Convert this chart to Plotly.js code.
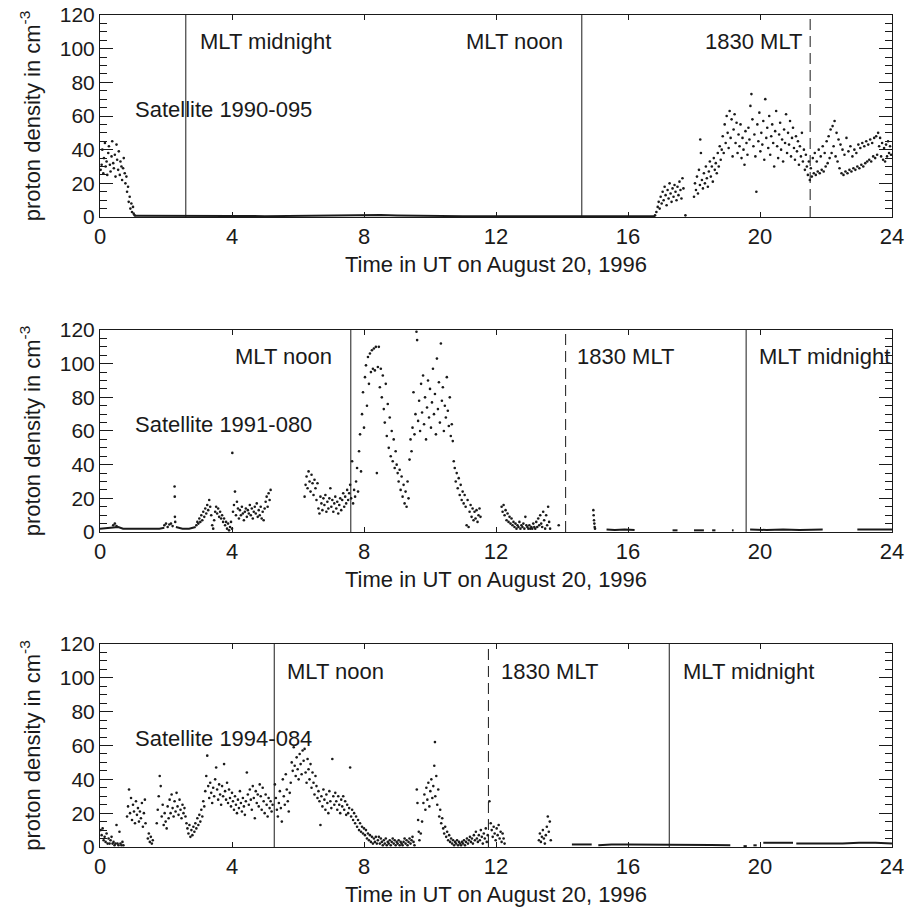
<!DOCTYPE html>
<html><head><meta charset="utf-8">
<script src="https://cdn.plot.ly/plotly-3.0.1.min.js"></script>
<style>html,body{margin:0;padding:0;background:#fff}#chart{width:908px;height:909px}</style>
</head><body><div id="chart"></div>
<script>
// ---------- tick labels ----------
var xTickVals = [0, 4, 8, 12, 16, 20, 24];
var xTickText = ["0", "4", "8", "12", "16", "20", "24"];
var yTickVals = [0, 20, 40, 60, 80, 100, 120];
var yTickText = ["0", "20", "40", "60", "80", "100", "120"];
var xTitle = "Time in UT on August 20, 1996";
var yTitle = "proton density in cm<sup>-3</sup>";

// ---------- Satellite 1990-095 ----------
var sat1Name = "Satellite 1990-095";
var sat1Time = [0.02,0.05,0.07,0.10,0.12,0.15,0.17,0.20,0.22,0.25,0.27,0.30,0.32,0.35,0.37,0.40,0.42,0.45,0.47,0.50,0.52,0.55,0.57,0.60,0.62,0.65,0.67,0.70,0.72,0.75,0.77,0.80,0.82,0.85,0.87,0.90,0.92,0.95,0.97,1.00,1.02,1.05,
16.82,16.86,16.90,16.93,16.96,16.99,17.02,17.05,17.08,17.11,17.14,17.17,17.20,17.23,17.26,17.29,17.32,17.35,17.38,17.41,17.44,17.47,17.50,17.53,17.56,17.59,17.62,17.65,17.68,17.74,
18.00,18.03,18.06,18.09,18.12,18.15,18.18,18.19,18.21,18.24,18.27,18.30,18.33,18.36,18.39,18.42,18.45,18.48,18.51,18.54,18.57,18.60,18.63,18.66,18.69,18.72,18.75,18.78,18.81,18.84,
18.87,18.90,18.93,18.96,18.99,19.02,19.05,19.08,19.11,19.14,19.17,19.20,19.23,19.26,19.29,
19.32,19.35,19.38,19.41,19.44,19.47,19.50,19.53,19.56,19.59,19.62,19.65,19.68,19.71,19.74,19.77,19.80,19.83,19.86,19.89,19.92,19.95,19.98,20.01,20.04,20.07,20.10,20.13,20.16,20.19,20.22,20.25,20.28,20.31,20.34,20.37,20.40,20.43,20.46,20.49,20.52,20.55,20.58,20.61,20.64,20.67,20.70,20.73,20.76,20.79,20.82,20.85,20.88,20.91,20.94,20.97,21.00,21.03,21.06,21.09,21.12,21.15,21.18,21.21,21.24,21.27,21.30,21.33,21.36,21.39,21.42,21.45,21.48,21.51,21.54,21.57,21.60,21.63,21.66,21.69,21.72,21.75,21.78,21.81,21.84,21.87,21.90,21.93,21.96,21.99,22.02,22.05,22.08,22.11,22.14,22.17,22.20,22.23,22.26,22.29,22.32,22.35,22.38,22.41,22.44,22.47,22.50,22.53,22.56,22.59,22.62,22.65,22.68,22.71,22.74,22.77,22.80,22.83,22.86,22.89,22.92,22.95,22.98,23.01,23.04,23.07,23.10,23.13,23.16,23.19,23.22,23.25,23.28,23.31,23.34,23.37,23.40,23.43,23.46,23.49,23.52,23.55,23.58,23.61,23.64,23.67,23.70,23.73,23.76,23.79,23.82,23.85,23.88,23.91,23.94,23.97];
var sat1Density = [28,31,40,26,35,44,30,33,25,38,42,31,27,36,45,32,29,37,24,43,34,28,39,25,33,30,22,29,35,26,20,24,15,18,9,12,5,8,3,6,2,1,
1,3,6,9,5,12,8,15,10,18,13,7,16,11,20,14,9,17,12,19,15,10,18,13,21,16,11,23,17,1,
12,20,16,24,14,28,19,46,38,22,17,26,20,30,23,18,27,33,24,30,21,35,28,32,26,38,30,42,34,40,
48,38,55,44,60,50,41,63,47,58,36,52,61,44,56,
38,49,42,55,35,47,40,31,51,44,37,53,46,66,73,58,42,49,36,15,55,45,62,39,50,43,57,34,70,47,53,41,60,37,48,55,44,30,51,63,42,35,49,56,40,46,33,52,44,61,38,50,43,57,36,47,53,41,34,48,39,45,31,42,36,50,33,40,28,37,30,25,33,22,29,24,35,26,38,25,33,27,40,26,36,28,42,27,38,30,45,32,48,35,52,38,54,42,57,36,50,33,46,29,43,26,40,25,37,27,47,26,39,28,42,27,36,29,40,28,38,30,43,29,41,31,44,30,42,32,45,33,43,34,46,33,44,36,47,35,48,37,50,42,47,36,44,34,41,33,43,36,45,38,42,37];
var sat1FlatTime = [1.05,2,3,4,5,6,7,7.5,8,8.5,9,10,11,12,13,14,15,16,16.82];
var sat1FlatDensity = [0.8,0.6,0.5,0.6,0.5,0.7,0.9,1.2,1.4,1.2,0.9,0.6,0.5,0.5,0.5,0.4,0.4,0.4,0.5];
var sat1EventTime = [2.6, 14.6, 21.52];
var sat1EventText = ["MLT midnight", "MLT noon", "1830 MLT"];
var sat1EventDash = ["solid", "solid", "dash"];
var sat1LabelTime = [2.97, 11.03, 18.27];

// ---------- Satellite 1991-080 ----------
var sat2Name = "Satellite 1991-080";
var sat2Time = [0.40,0.45,0.50,1.95,2.00,2.05,2.10,2.15,2.20,2.26,2.265,2.27,2.28,
2.92,2.95,2.98,3.01,3.04,3.07,3.10,3.13,3.16,3.19,3.22,3.25,3.28,3.31,3.34,3.37,3.40,3.43,3.46,3.49,3.52,3.55,3.58,3.61,3.64,3.67,3.70,3.73,3.76,3.79,3.82,3.85,3.88,3.91,3.94,3.97,4.00,4.01,
4.03,4.06,4.09,4.12,4.15,4.18,4.21,4.24,4.27,4.30,4.33,4.36,4.39,4.42,4.45,4.48,4.51,4.54,4.57,4.60,4.63,4.66,4.69,4.72,4.75,4.78,4.81,4.84,4.87,4.90,4.93,4.96,4.99,5.02,5.05,5.08,5.11,5.14,5.17,
6.20,6.23,6.26,6.29,6.32,6.35,6.38,6.41,6.44,6.47,6.50,6.53,6.56,6.59,6.62,6.65,6.68,6.71,6.74,6.77,6.80,6.83,6.86,6.89,6.92,6.95,6.98,7.01,7.04,7.07,7.10,7.13,7.16,7.19,7.22,7.25,7.28,7.31,7.34,7.37,7.40,7.43,7.46,7.49,7.52,7.55,7.58,7.61,7.64,7.67,7.70,7.73,7.76,7.79,7.82,7.85,7.88,7.91,7.94,7.97,8.00,8.03,8.06,8.09,8.12,8.15,8.18,8.21,8.24,8.27,8.30,8.33,8.36,8.39,8.42,8.45,8.48,8.51,8.54,8.57,8.60,8.63,8.66,8.69,8.72,8.75,8.78,8.81,8.84,8.87,8.90,8.93,8.96,8.99,9.02,9.05,9.08,9.11,9.14,9.17,9.20,9.23,9.26,9.29,9.32,9.35,9.38,9.41,9.44,9.47,9.50,9.53,9.56,9.59,9.61,9.64,9.67,9.70,9.73,9.76,9.79,9.82,9.85,9.88,9.91,9.94,9.97,10.00,10.03,10.06,10.09,10.12,10.15,10.18,10.21,10.24,10.27,10.30,10.33,10.36,10.39,10.42,10.45,10.48,10.51,10.54,10.57,10.60,10.63,10.66,10.69,10.72,10.75,10.78,10.81,10.84,10.87,10.90,10.93,10.96,10.99,11.02,11.05,11.08,11.11,11.14,11.17,11.20,11.23,11.26,11.29,11.32,11.35,11.38,11.41,11.44,11.47,11.50,11.53,
12.17,12.20,12.23,12.26,12.29,12.32,12.35,12.38,12.41,12.44,12.47,12.50,12.53,12.56,12.59,12.62,12.65,12.68,12.71,12.74,12.77,12.80,12.83,12.86,12.89,12.92,12.95,12.98,13.01,13.04,13.07,13.10,13.13,13.16,13.19,13.22,13.25,13.28,13.31,13.34,13.37,13.40,13.43,13.46,13.49,13.52,13.55,13.58,13.61,13.64,13.90,
14.95,14.96,14.97,14.98,14.99,15.00];
var sat2Density = [4,5,3.5,4,5,3,4.5,5,3.5,27,21,9,6,
4,6,5,8,6,10,7,12,9,14,11,16,13,19,15,10,4,2,7,12,15,11,14,9,12,8,10,6,8,4,6,2,5,1,3,6,2,47,
12,16,24,10,18,14,8,13,10,15,11,7,12,14,9,13,11,16,10,14,8,12,15,11,17,9,13,10,15,8,12,7,14,18,21,15,23,19,25,
21,28,33,26,36,30,24,34,29,22,31,26,19,29,14,11,21,17,13,20,16,22,12,18,14,20,26,15,19,12,17,21,14,18,11,16,20,13,19,23,15,21,17,25,19,23,28,20,42,17,25,21,30,38,24,48,58,36,70,83,62,92,99,75,104,88,106,95,108,97,109,96,110,35,98,110,86,97,80,93,73,65,88,57,76,50,68,45,60,42,55,38,48,40,35,30,37,25,33,21,28,17,24,15,30,20,43,55,48,62,83,58,70,119,114,66,78,60,88,71,93,64,80,55,74,90,68,85,62,77,97,70,82,58,103,73,89,65,112,78,86,60,75,68,92,72,63,80,57,64,54,42,38,30,35,26,32,22,28,19,24,17,22,15,4,19,3,12,16,9,14,7,12,8,13,6,10,14,9,
15,12,16,10,13,7,11,6,9,5,8,4,6,3,5,2,4,3,6,2,4,3,5,2,9,4,3,2,4,2,3,2,5,3,2,6,3,8,4,10,5,3,12,7,2,10,4,15,6,2,4,
13,10,7,5,3,2];
var sat2FlatTime = [0.0,0.2,0.35,0.55,0.7,1.0,1.4,1.8,1.95,null,2.3,2.5,2.7,2.9,null,15.35,15.6,15.9,16.2,null,17.35,17.5,null,18.0,18.3,null,18.55,18.65,null,19.15,19.2,null,19.7,20.2,20.7,21.2,21.9,null,22.95,23.5,24.0];
var sat2FlatDensity = [2,2.5,2.5,3,2,2,2,2,2.5,null,3,2,2,3,null,1.5,1.2,1.5,1.2,null,1,1,null,1,1,null,1,1,null,1,1,null,1.5,1.2,1.5,1.2,1.5,null,1.5,1.5,1.5];
var sat2EventTime = [7.6, 14.11, 19.58];
var sat2EventText = ["MLT noon", "1830 MLT", "MLT midnight"];
var sat2EventDash = ["solid", "dash", "solid"];
var sat2LabelTime = [4.03, 14.39, 19.9];

// ---------- Satellite 1994-084 ----------
var sat3Name = "Satellite 1994-084";
var sat3Time = [0.02,0.05,0.08,0.11,0.14,0.17,0.20,0.23,0.26,0.29,0.32,0.35,0.38,0.41,0.44,0.47,0.50,0.53,0.56,0.59,0.62,0.65,0.68,0.71,
0.82,0.85,0.88,0.91,0.94,0.97,1.00,1.03,1.06,1.09,1.12,1.15,1.18,1.21,1.24,1.27,1.30,1.33,1.36,1.38,
1.45,1.48,1.51,1.54,1.57,1.60,
1.72,1.75,1.78,1.81,1.84,1.87,1.90,1.93,1.96,1.99,2.02,2.05,2.08,2.11,2.14,2.17,2.20,2.23,2.26,2.29,2.32,2.35,2.38,2.41,2.44,2.47,2.50,2.53,2.56,2.59,2.62,2.65,2.68,2.71,2.74,2.77,2.80,2.83,2.86,2.89,2.92,2.95,2.98,3.01,3.04,3.07,3.10,3.13,3.16,3.19,3.22,3.25,3.28,3.31,3.34,3.37,3.40,3.43,3.46,3.49,3.52,3.55,3.58,3.61,3.64,3.67,3.70,3.73,3.76,3.79,3.82,3.85,3.88,3.91,3.94,3.97,4.00,4.03,4.06,4.09,4.12,4.15,4.18,4.21,4.24,4.27,4.30,4.33,4.36,4.39,4.42,4.45,4.48,4.51,4.54,4.57,4.60,4.63,4.66,4.69,4.72,4.75,4.78,4.81,4.84,4.87,4.90,4.93,4.96,4.99,5.02,5.05,5.08,5.11,5.14,5.17,5.20,5.23,
5.30,5.33,5.36,5.39,5.42,5.45,5.48,5.51,5.54,5.57,5.60,5.63,5.66,5.69,5.72,5.75,5.78,5.81,5.84,5.87,5.90,5.93,5.96,5.99,6.02,6.05,6.08,6.11,6.14,6.17,6.20,6.23,6.26,6.29,6.32,6.35,6.38,6.41,6.44,6.47,6.50,6.53,6.56,6.59,6.62,6.65,6.68,6.71,6.74,6.77,6.80,6.83,6.86,6.89,6.92,6.95,6.98,7.01,7.04,7.07,7.10,7.13,7.16,7.19,7.22,7.25,7.28,7.31,7.34,7.37,7.40,7.43,7.46,7.49,7.52,7.55,7.58,7.61,7.64,7.67,7.70,7.73,7.76,7.79,7.82,7.85,7.88,7.91,7.94,7.97,8.00,8.03,8.06,8.09,8.12,8.15,8.18,8.21,8.24,8.27,8.30,8.33,8.36,8.39,8.42,8.45,8.48,8.51,8.54,8.57,8.60,8.63,8.66,8.69,8.72,8.75,8.78,8.81,8.84,8.87,8.90,8.93,8.96,8.99,9.02,9.05,9.08,9.11,9.14,9.17,9.20,9.23,9.26,9.29,9.32,9.35,9.38,9.41,9.44,9.47,9.50,9.53,
9.60,9.62,9.64,9.66,9.68,9.72,9.76,9.80,9.83,9.86,9.89,9.92,9.95,9.98,10.01,10.04,10.07,10.10,10.13,10.15,10.16,10.19,10.22,10.25,10.28,10.31,10.34,10.37,10.40,10.43,10.46,10.49,10.52,10.55,10.58,10.61,10.64,10.67,10.70,10.73,10.76,10.79,10.82,10.85,10.88,10.91,10.94,10.97,11.00,11.03,11.06,11.09,11.12,11.15,11.18,11.21,11.24,11.27,11.30,11.33,11.36,11.39,11.42,11.45,11.48,11.51,11.54,11.57,11.60,11.63,11.66,11.69,11.72,11.75,11.80,11.84,11.87,11.90,11.93,11.96,11.99,12.02,12.05,12.08,12.11,12.14,12.17,12.20,12.23,12.26,
13.30,13.33,13.36,13.39,13.42,13.45,13.48,13.51,13.54,13.57,13.60,13.63,13.66];
var sat3Density = [10,7,11,4,6,3,8,2,5,2,4,6,2,3,1,2,13,2,1,9,2,1,3,1,
18,24,34,20,29,16,25,21,14,27,19,23,15,21,17,26,12,20,28,14,
5,8,3,6,2,4,
14,22,30,42,36,18,25,13,20,15,11,24,17,28,20,31,23,18,27,21,32,24,19,28,22,17,25,20,23,18,14,11,8,13,6,10,7,12,9,14,11,17,13,19,15,22,18,27,24,33,42,54,36,29,38,32,26,35,30,40,47,34,28,37,31,25,36,30,49,33,28,38,26,34,29,24,32,27,22,30,25,20,28,23,33,26,21,29,24,19,27,44,31,25,34,28,22,36,29,17,33,26,31,24,37,30,22,35,27,20,31,25,18,29,23,27,21,25,
37,29,22,18,26,33,23,15,40,30,25,43,34,27,21,32,38,50,45,59,48,42,53,46,40,55,49,43,57,51,58,44,38,52,46,40,49,35,44,38,31,42,36,29,33,27,13,30,24,34,28,22,31,26,20,33,27,23,52,30,25,32,27,22,30,25,20,28,24,30,22,27,19,25,20,23,47,18,22,16,20,14,18,12,16,10,14,9,12,8,11,7,10,5,8,4,7,3,6,2,5,3,6,2,4,6,2,5,3,1,4,2,5,1,3,2,4,1,3,5,2,4,1,3,2,4,1,3,2,1,3,5,2,4,1,3,5,2,4,6,3,1,
34,26,16,9,4,8,15,26,31,22,35,28,38,24,33,40,29,36,48,62,30,42,25,34,18,22,14,17,11,8,12,6,9,4,7,3,5,2,4,1,3,2,4,1,3,2,1,3,2,4,1,3,5,2,4,6,3,5,2,7,4,9,5,3,7,4,10,6,2,8,5,11,3,7,27,14,10,6,12,8,4,11,7,13,5,9,3,8,5,2,
4,8,3,6,10,5,2,7,12,18,9,15,4];
var sat3FlatTime = [14.3,14.6,14.9,null,15.1,15.5,16,16.5,17,17.5,18,18.5,19.1,null,19.5,19.6,null,19.8,19.9,null,20.1,20.5,21.0,null,21.1,21.6,22,22.5,23,23.5,24];
var sat3FlatDensity = [1.5,1.5,1.5,null,1,1.5,1.5,1.5,1.5,1.5,1.2,1.2,1.0,null,0.5,0.5,null,1,1,null,2.5,2.5,2.5,null,2,2,2,2,2.5,2.5,2];
var sat3EventTime = [5.28, 11.77, 17.25];
var sat3EventText = ["MLT noon", "1830 MLT", "MLT midnight"];
var sat3EventDash = ["solid", "dash", "solid"];
var sat3LabelTime = [5.6, 12.09, 17.6];

// ---------- build ----------
var ink = "#1a1a1a";
var font = "Liberation Sans, Arial, Helvetica, sans-serif";
var panels = [
  {name: sat1Name, t: sat1Time, d: sat1Density, ft: sat1FlatTime, fd: sat1FlatDensity, et: sat1EventTime, ex: sat1EventText, ed: sat1EventDash, lt: sat1LabelTime, dom: [0.7572, 1.0]},
  {name: sat2Name, t: sat2Time, d: sat2Density, ft: sat2FlatTime, fd: sat2FlatDensity, et: sat2EventTime, ex: sat2EventText, ed: sat2EventDash, lt: sat2LabelTime, dom: [0.3786, 0.6214]},
  {name: sat3Name, t: sat3Time, d: sat3Density, ft: sat3FlatTime, fd: sat3FlatDensity, et: sat3EventTime, ex: sat3EventText, ed: sat3EventDash, lt: sat3LabelTime, dom: [0.0, 0.244]}
];
var traces = [];
var layout = {
  width: 908, height: 909,
  margin: {l: 100, r: 16, t: 15, b: 62},
  paper_bgcolor: "#fff", plot_bgcolor: "#fff",
  showlegend: false,
  font: {family: font, color: ink, size: 21},
  annotations: []
};
panels.forEach(function (p, i) {
  var k = i === 0 ? "" : String(i + 1);
  var xa = "x" + k, ya = "y" + k;
  p.et.forEach(function (t, j) {
    traces.push({type: "scatter", mode: "lines", x: [t, t], y: [0, 120], xaxis: xa, yaxis: ya,
      line: {color: ink, width: 1, dash: p.ed[j] === "dash" ? "11px,6px" : "solid"}, hoverinfo: "skip"});
    layout.annotations.push({xref: xa, yref: ya, x: p.lt[j], y: 104, text: p.ex[j], showarrow: false,
      xanchor: "left", yanchor: "middle", font: {size: 22, color: ink, family: font}});
  });
  layout.annotations.push({xref: xa, yref: ya, x: 1.0, y: 64, text: p.name, showarrow: false,
    xanchor: "left", yanchor: "middle", font: {size: 22, color: ink, family: font}});
  // x-axis title placed just under the tick labels
  layout.annotations.push({xref: xa + " domain", yref: ya + " domain", x: 0.5, y: 0, yshift: -47,
    text: xTitle, showarrow: false, xanchor: "center", yanchor: "middle", borderpad: 0,
    font: {size: 22, color: ink, family: font}});
  traces.push({type: "scatter", mode: "lines", x: p.ft, y: p.fd, xaxis: xa, yaxis: ya, connectgaps: false,
    line: {color: ink, width: 2}, hoverinfo: "skip"});
  traces.push({type: "scatter", mode: "markers", x: p.t, y: p.d, xaxis: xa, yaxis: ya,
    marker: {color: ink, size: 2.6, symbol: "circle"}, hoverinfo: "skip"});
  layout["xaxis" + k] = {
    domain: [0, 1], anchor: ya, range: [0, 24], tickmode: "array", tickvals: xTickVals, ticktext: xTickText,
    ticks: "inside", ticklen: 5, tickwidth: 1, tickcolor: ink, mirror: "allticks", showline: true,
    linecolor: ink, linewidth: 1, showgrid: false, zeroline: false, automargin: false,
    tickfont: {size: 22, color: ink, family: font}, ticklabelstandoff: 0
  };
  layout["yaxis" + k] = {
    domain: p.dom, anchor: xa, range: [0, 120], tickmode: "array", tickvals: yTickVals, ticktext: yTickText,
    ticks: "inside", ticklen: 13, tickwidth: 1, tickcolor: ink, mirror: "allticks", showline: true,
    linecolor: ink, linewidth: 1, showgrid: false, zeroline: false, automargin: false,
    minor: {dtick: 5, tick0: 0, ticks: "inside", ticklen: 7, tickwidth: 1, tickcolor: ink, showgrid: false},
    tickfont: {size: 21, color: ink, family: font},
    title: {text: yTitle, font: {size: 22, color: ink, family: font}, standoff: 13}
  };
});
Plotly.newPlot("chart", traces, layout, {displayModeBar: false, staticPlot: true});
</script></body></html>
